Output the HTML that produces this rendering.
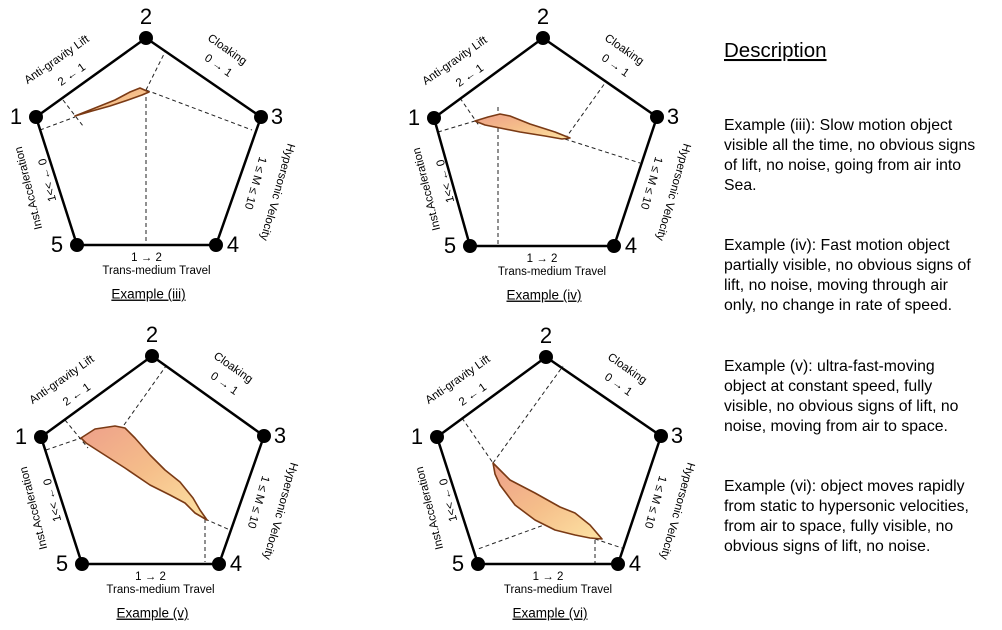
<!DOCTYPE html>
<html><head><meta charset="utf-8"><style>
html,body{margin:0;padding:0;background:#fff;}
svg{display:block;font-family:"Liberation Sans",sans-serif;}
</style></head><body>
<svg id="fig" width="1002" height="630" viewBox="0 0 1002 630">
<defs>
<linearGradient id="grad" x1="0" y1="0" x2="1" y2="1">
<stop offset="0" stop-color="#eea08a"/><stop offset="0.5" stop-color="#f5be8a"/><stop offset="1" stop-color="#fde3a4"/>
</linearGradient>
</defs>
<g id="desc">
<text x="724" y="57" font-size="20.5" text-decoration="underline">Description</text>
</g>
</svg>
<script>
const NS="http://www.w3.org/2000/svg";
const svg=document.getElementById('fig');
// Panel vertex positions (1..5) for each example
const panelNames=["example-iii","example-iv","example-v","example-vi"];
const panelTitles=["Example (iii)","Example (iv)","Example (v)","Example (vi)"];
const vertices=[
 [[36,117],[146,38],[261,117],[216,245],[77,245]],
 [[434,118],[543,38],[657,117],[614,246],[470,246]],
 [[41,437],[152,356],[264,436],[219,564],[82,564]],
 [[437,437],[546,357],[661,436],[618,564],[478,564]]
];
// Hand-drawn shape outlines per example
const shapes=[
 [[75,116],[95,108],[115,100],[130,92],[140,88],[149,92],[142,95],[128,100],[110,106],[92,111]],
 [[475,121],[488,117],[500,114],[510,116],[530,124],[555,132],[570,138],[562,139],[545,136],[520,132],[500,128],[485,125]],
 [[81,438],[95,429],[115,426],[125,428],[135,438],[150,455],[165,470],[180,482],[193,498],[200,510],[207,520],[195,513],[185,503],[170,495],[150,485],[125,468],[100,452],[86,443]],
 [[493,463],[500,470],[510,480],[535,493],[560,507],[575,513],[590,525],[602,539],[590,538],[575,535],[555,530],[545,525],[535,520],[515,505],[500,485],[495,474]]
];
// Dashed projection lines per example
const dashes=[
 [[[40,130],[75,117]],[[63,100],[83,126]],[[146,90],[146,245]],[[146,90],[252,130]],[[146,90],[165,52]]],
 [[[438,132],[475,121]],[[460,98],[480,127]],[[498,107],[498,246]],[[565,139],[640,163]],[[565,139],[605,83]]],
 [[[46,450],[81,438]],[[65,420],[88,448]],[[124,425],[166,366]],[[205,519],[230,530]],[[205,519],[205,562]]],
 [[[462,418],[493,463]],[[493,463],[563,366]],[[555,521],[478,549]],[[535,519],[622,548]],[[595,540],[595,563]]]
];
const descTexts=[
 ["Example (iii): Slow motion object","visible all the time, no obvious signs","of lift, no noise, going from air into","Sea."],
 ["Example (iv): Fast motion object","partially visible, no obvious signs of","lift, no noise, moving through air","only, no change in rate of speed."],
 ["Example (v): ultra-fast-moving","object at constant speed, fully","visible, no obvious signs of lift, no","noise, moving from air to space."],
 ["Example (vi): object moves rapidly","from static to hypersonic velocities,","from air to space, fully visible, no","obvious signs of lift, no noise."]
];
const descTops=[130,250,371,491];

function mk(tag,attrs,parent){const e=document.createElementNS(NS,tag);for(const k in attrs)e.setAttribute(k,attrs[k]);(parent||svg).appendChild(e);return e;}
function txt(parent,x,y,s,size,rot,anchor){const t=mk('text',{x:x,y:y,'font-size':size,'text-anchor':anchor||'middle','dominant-baseline':'middle'},parent);if(rot)t.setAttribute('transform',`rotate(${rot} ${x} ${y})`);t.textContent=s;return t;}

vertices.forEach((V,i)=>{
 const g=mk('g',{});
 
 
 dashes[i].forEach(d=>{
  const l=mk('line',{x1:d[0][0],y1:d[0][1],x2:d[1][0],y2:d[1][1],stroke:'#222','stroke-width':1,'stroke-dasharray':'4 3'},g);
  
  
 });
 const pg=mk('polygon',{points:V.map(p=>p.join(',')).join(' '),fill:'none',stroke:'#000','stroke-width':2.5},g);
 
 
 const sh=mk('polygon',{points:shapes[i].map(p=>p.join(',')).join(' '),fill:'url(#grad)',stroke:'#7a3a15','stroke-width':1.6,'stroke-linejoin':'round'},g);
 
 
 V.forEach((p,k)=>{
  const c=mk('circle',{cx:p[0],cy:p[1],r:7,fill:'#000'},g);
  
  
 });
 const off=[[-20,1],[0,-20],[16,1],[17,1],[-20,1]];
 V.forEach((p,k)=>{
  const t=txt(g,p[0]+off[k][0],p[1]+off[k][1],String(k+1),22);
  
  
 });
 const [v1,v2,v3,v4,v5]=V;
 let t;
 t=txt(g,v1[0]+21,v1[1]-57,'Anti-gravity Lift',11.5,-35);
 
 
 t=txt(g,v1[0]+36,v1[1]-42,'2 \u2190 1',11.5,-35);
 
 
 t=txt(g,v2[0]+81,v2[1]+12,'Cloaking',11.5,35);
 
 
 t=txt(g,v2[0]+72,v2[1]+28,'0 \u2192 1',11.5,35);
 
 
 t=txt(g,v3[0]+16,v3[1]+75,'Hypersonic Velocity',11.5,106);
 
 
 t=txt(g,v3[0]-6,v3[1]+66,'1 \u2264 M \u2264 10',11.5,106);
 
 
 t=txt(g,v1[0]-7,v1[1]+71,'Inst.Acceleration',11.5,-104);
 
 
 t=txt(g,v1[0]+12,v1[1]+63,'1<< \u2190 0',11.5,-104);
 
 
 const mx=(v4[0]+v5[0])/2, my=v4[1];
 t=txt(g,mx+0,my+13,'1 \u2192 2',11.5);
 
 
 t=txt(g,mx+10,my+26,'Trans-medium Travel',11.5);
 
 
 t=txt(g,mx+2,my+50,panelTitles[i],13.5);
 t.setAttribute('text-decoration','underline');
 
 
});

const desc=document.getElementById('desc');
descTexts.forEach((lines,i)=>{
 lines.forEach((s,j)=>{
  const t=mk('text',{x:724,y:descTops[i]+j*20,'font-size':15.8},desc);
  t.textContent=s;
  
  
 });
});
</script>
</body></html>
